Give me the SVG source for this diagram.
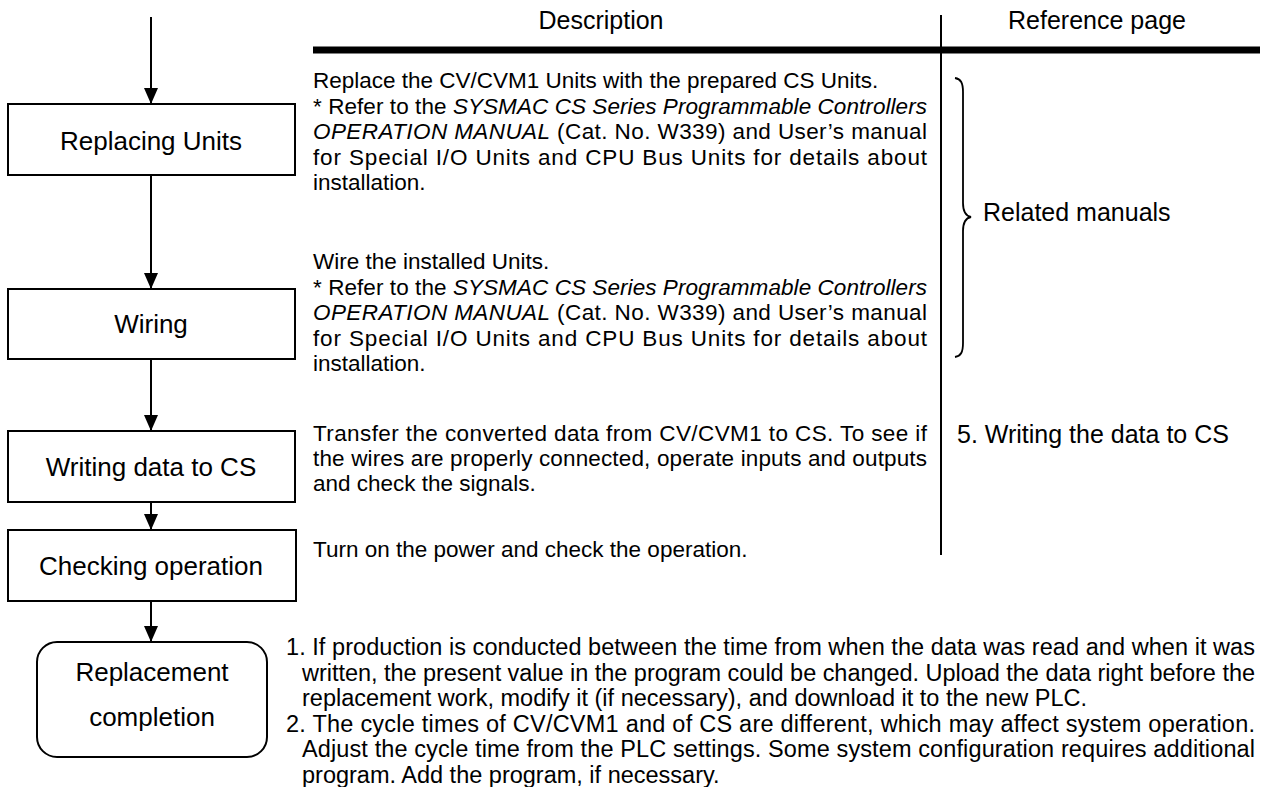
<svg xmlns="http://www.w3.org/2000/svg" width="1265" height="787" viewBox="0 0 1265 787">
<defs>
<style>
text{font-family:"Liberation Sans",Arial,Helvetica,sans-serif;fill:#000}
.b{font-size:22.5px}
.n{font-size:23.5px}
.lbl{font-size:26px;text-anchor:middle}
.hd{font-size:25px}
.i{font-style:italic}
.box{fill:#fff;stroke:#000;stroke-width:2}
.ln{stroke:#000;stroke-width:2;fill:none}
</style>
<marker id="ah" viewBox="0 0 16 14" refX="16" refY="7" markerWidth="16" markerHeight="14" markerUnits="userSpaceOnUse" orient="auto">
<path d="M0,0 L16,7 L0,14 z" fill="#000"/>
</marker>
</defs>
<rect width="1265" height="787" fill="#fff"/>

<g id="table-frame">
<line x1="313" y1="50" x2="1260" y2="50" stroke="#000" stroke-width="7"/>
<line x1="941" y1="15" x2="941" y2="555" stroke="#000" stroke-width="2"/>
<text class="hd" x="601" y="29" text-anchor="middle">Description</text>
<text class="hd" x="1097" y="29" text-anchor="middle">Reference page</text>
</g>

<g id="connectors">
<line class="ln" x1="151" y1="17" x2="151" y2="104" marker-end="url(#ah)"/>
<line class="ln" x1="151" y1="175" x2="151" y2="289" marker-end="url(#ah)"/>
<line class="ln" x1="151" y1="359" x2="151" y2="431" marker-end="url(#ah)"/>
<line class="ln" x1="151" y1="502" x2="151" y2="530" marker-end="url(#ah)"/>
<line class="ln" x1="151" y1="601" x2="151" y2="642" marker-end="url(#ah)"/>
</g>

<g id="node-replacing-units">
<rect class="box" x="8" y="104" width="287" height="71"/>
<text class="lbl" x="151" y="150">Replacing Units</text>
</g>
<g id="node-wiring">
<rect class="box" x="8" y="289" width="287" height="70"/>
<text class="lbl" x="151" y="333">Wiring</text>
</g>
<g id="node-writing-data">
<rect class="box" x="8" y="431" width="287" height="71"/>
<text class="lbl" x="151" y="476">Writing data to CS</text>
</g>
<g id="node-checking-operation">
<rect class="box" x="8" y="530" width="288" height="71"/>
<text class="lbl" x="151" y="575">Checking operation</text>
</g>
<g id="node-replacement-completion">
<rect class="box" x="37" y="642" width="230" height="115" rx="20" ry="20"/>
<text class="lbl" x="152" y="681">Replacement</text>
<text class="lbl" x="152" y="726">completion</text>
</g>

<g id="desc-replacing">
<text class="b" x="313" y="88">Replace the CV/CVM1 Units with the prepared CS Units.</text>
<text class="b" x="313" y="113.5" textLength="614" lengthAdjust="spacing">* Refer to the <tspan class="i">SYSMAC CS Series Programmable Controllers</tspan></text>
<text class="b" x="313" y="139" textLength="614" lengthAdjust="spacing"><tspan class="i">OPERATION MANUAL</tspan> (Cat. No. W339) and User’s manual</text>
<text class="b" x="313" y="164.5" textLength="614" lengthAdjust="spacing">for Special I/O Units and CPU Bus Units for details about</text>
<text class="b" x="313" y="190">installation.</text>
</g>

<g id="desc-wiring">
<text class="b" x="313" y="269">Wire the installed Units.</text>
<text class="b" x="313" y="294.5" textLength="614" lengthAdjust="spacing">* Refer to the <tspan class="i">SYSMAC CS Series Programmable Controllers</tspan></text>
<text class="b" x="313" y="320" textLength="614" lengthAdjust="spacing"><tspan class="i">OPERATION MANUAL</tspan> (Cat. No. W339) and User’s manual</text>
<text class="b" x="313" y="345.5" textLength="614" lengthAdjust="spacing">for Special I/O Units and CPU Bus Units for details about</text>
<text class="b" x="313" y="371">installation.</text>
</g>

<g id="desc-writing">
<text class="b" x="313" y="441" textLength="614" lengthAdjust="spacing">Transfer the converted data from CV/CVM1 to CS. To see if</text>
<text class="b" x="313" y="466" textLength="614" lengthAdjust="spacing">the wires are properly connected, operate inputs and outputs</text>
<text class="b" x="313" y="491">and check the signals.</text>
</g>

<g id="desc-checking">
<text class="b" x="313" y="557">Turn on the power and check the operation.</text>
</g>

<g id="related-manuals">
<path d="M955,78 C961,79 963,83 963,92 L963,203 C963,211 966,216 971,217 C966,218 963,223 963,231 L963,343 C963,352 961,356 955,357" fill="none" stroke="#000" stroke-width="1.8"/>
<text class="hd" x="983" y="221">Related manuals</text>
</g>

<g id="ref-writing">
<text class="hd" x="957" y="443">5. Writing the data to CS</text>
</g>

<g id="notes">
<text class="n" x="286" y="655" textLength="969" lengthAdjust="spacing">1. If production is conducted between the time from when the data was read and when it was</text>
<text class="n" x="302" y="680.5" textLength="953" lengthAdjust="spacing">written, the present value in the program could be changed. Upload the data right before the</text>
<text class="n" x="302" y="706">replacement work, modify it (if necessary), and download it to the new PLC.</text>
<text class="n" x="286" y="731.5" textLength="969" lengthAdjust="spacing">2. The cycle times of CV/CVM1 and of CS are different, which may affect system operation.</text>
<text class="n" x="302" y="757" textLength="953" lengthAdjust="spacing">Adjust the cycle time from the PLC settings. Some system configuration requires additional</text>
<text class="n" x="302" y="782.5">program. Add the program, if necessary.</text>
</g>
</svg>
